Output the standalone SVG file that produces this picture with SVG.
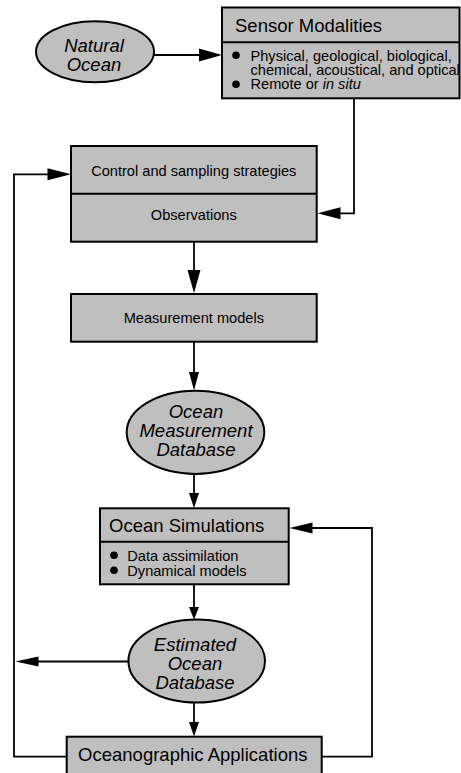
<svg xmlns="http://www.w3.org/2000/svg" width="461" height="773" viewBox="0 0 461 773">
  <style>
    .box { fill: #bfbfbf; stroke: #000; stroke-width: 2; }
    .div { stroke: #000; stroke-width: 2; fill: none; }
    .wire { stroke: #000; stroke-width: 1.8; fill: none; }
    .head { fill: #000; stroke: none; }
    text { font-family: "Liberation Sans", Arial, Helvetica, sans-serif; fill: #000; }
    .title { font-size: 18.5px; }
    .label { font-size: 14.6px; }
    .oval { font-size: 18.5px; font-style: italic; }
    .mid { text-anchor: middle; }
  </style>
  <rect width="461" height="773" fill="#fff"/>

  <!-- connectors -->
  <g id="connectors">
    <!-- Natural Ocean -> Sensor Modalities -->
    <line class="wire" x1="154" y1="55" x2="202" y2="55"/>
    <polygon class="head" points="222,55 199,48.5 199,61.5"/>
    <!-- Sensor Modalities -> Observations -->
    <polyline class="wire" points="354,98 354,213.3 338,213.3"/>
    <polygon class="head" points="317.5,213.3 340.5,207.3 340.5,219.3"/>
    <!-- Observations -> Measurement models -->
    <line class="wire" x1="194" y1="242" x2="194" y2="272"/>
    <polygon class="head" points="194,293 187.5,270 200.5,270"/>
    <!-- Measurement models -> Ocean Measurement Database -->
    <line class="wire" x1="194" y1="342" x2="194" y2="374"/>
    <polygon class="head" points="194,390.5 189,372 199,372"/>
    <!-- Ocean Measurement Database -> Ocean Simulations -->
    <line class="wire" x1="194" y1="474" x2="194" y2="495"/>
    <polygon class="head" points="194,508 189,493 199,493"/>
    <!-- Ocean Simulations -> Estimated Ocean Database -->
    <line class="wire" x1="194" y1="584" x2="194" y2="610"/>
    <polygon class="head" points="194,619.5 189,607 199,607"/>
    <!-- Estimated Ocean Database -> Oceanographic Applications -->
    <line class="wire" x1="194" y1="703" x2="194" y2="725"/>
    <polygon class="head" points="194,736.5 189,722 199,722"/>
    <!-- Estimated Ocean Database -> feedback line -->
    <line class="wire" x1="128.5" y1="661.5" x2="36" y2="661.5"/>
    <polygon class="head" points="15.5,661.5 38.5,656.5 38.5,666.5"/>
    <!-- Oceanographic Applications -> Control and sampling strategies -->
    <polyline class="wire" points="66.7,756.7 14,756.7 14,174.3 50,174.3"/>
    <polygon class="head" points="71,174.3 47.5,168.3 47.5,180.3"/>
    <!-- Oceanographic Applications -> Ocean Simulations -->
    <polyline class="wire" points="321.7,756.7 372,756.7 372,528 310,528"/>
    <polygon class="head" points="289.5,528 312.5,522.5 312.5,533.5"/>
  </g>

  <!-- Natural Ocean -->
  <g id="natural-ocean">
    <ellipse class="box" cx="95" cy="51.7" rx="59" ry="30.5"/>
    <text class="oval mid" x="94" y="51.7">Natural</text>
    <text class="oval mid" x="94" y="70.7">Ocean</text>
  </g>

  <!-- Sensor Modalities -->
  <g id="sensor-modalities">
    <rect class="box" x="222" y="7.5" width="237.5" height="90.8"/>
    <line class="div" x1="222" y1="42.3" x2="459.5" y2="42.3"/>
    <text class="title" x="235" y="31.7">Sensor Modalities</text>
    <circle cx="236" cy="55.3" r="3.8"/>
    <text class="label" x="250.5" y="60.6">Physical, geological, biological,</text>
    <text class="label" x="250.5" y="75">chemical, acoustical, and optical</text>
    <circle cx="236" cy="84.2" r="3.8"/>
    <text class="label" x="250.5" y="89.4">Remote or <tspan font-style="italic">in situ</tspan></text>
  </g>

  <!-- Control and sampling strategies / Observations -->
  <g id="control-observations">
    <rect class="box" x="71" y="146" width="245.7" height="95.7"/>
    <line class="div" x1="71" y1="193.7" x2="316.7" y2="193.7"/>
    <text class="label mid" x="193.8" y="175.5">Control and sampling strategies</text>
    <text class="label mid" x="193.8" y="220">Observations</text>
  </g>

  <!-- Measurement models -->
  <g id="measurement-models">
    <rect class="box" x="71" y="294" width="245.7" height="47.7"/>
    <text class="label mid" x="193.8" y="323.3">Measurement models</text>
  </g>

  <!-- Ocean Measurement Database -->
  <g id="ocean-measurement-database">
    <ellipse class="box" cx="195.5" cy="432.3" rx="68.8" ry="41.6"/>
    <text class="oval mid" x="196" y="418.3">Ocean</text>
    <text class="oval mid" x="196" y="437.3">Measurement</text>
    <text class="oval mid" x="196" y="456">Database</text>
  </g>

  <!-- Ocean Simulations -->
  <g id="ocean-simulations">
    <rect class="box" x="100" y="508.3" width="188.7" height="76"/>
    <line class="div" x1="100" y1="541.7" x2="288.7" y2="541.7"/>
    <text class="title" x="109" y="532.3">Ocean Simulations</text>
    <circle cx="114" cy="555.2" r="3.8"/>
    <text class="label" x="127.3" y="560.6">Data assimilation</text>
    <circle cx="114" cy="570.2" r="3.8"/>
    <text class="label" x="127.3" y="575.6">Dynamical models</text>
  </g>

  <!-- Estimated Ocean Database -->
  <g id="estimated-ocean-database">
    <ellipse class="box" cx="196.7" cy="661" rx="68.3" ry="41.6"/>
    <text class="oval mid" x="195" y="651">Estimated</text>
    <text class="oval mid" x="195" y="670">Ocean</text>
    <text class="oval mid" x="195" y="689">Database</text>
  </g>

  <!-- Oceanographic Applications -->
  <g id="oceanographic-applications">
    <rect class="box" x="66.7" y="736.7" width="255" height="50"/>
    <text class="title mid" x="192.8" y="760.7">Oceanographic Applications</text>
  </g>
</svg>
